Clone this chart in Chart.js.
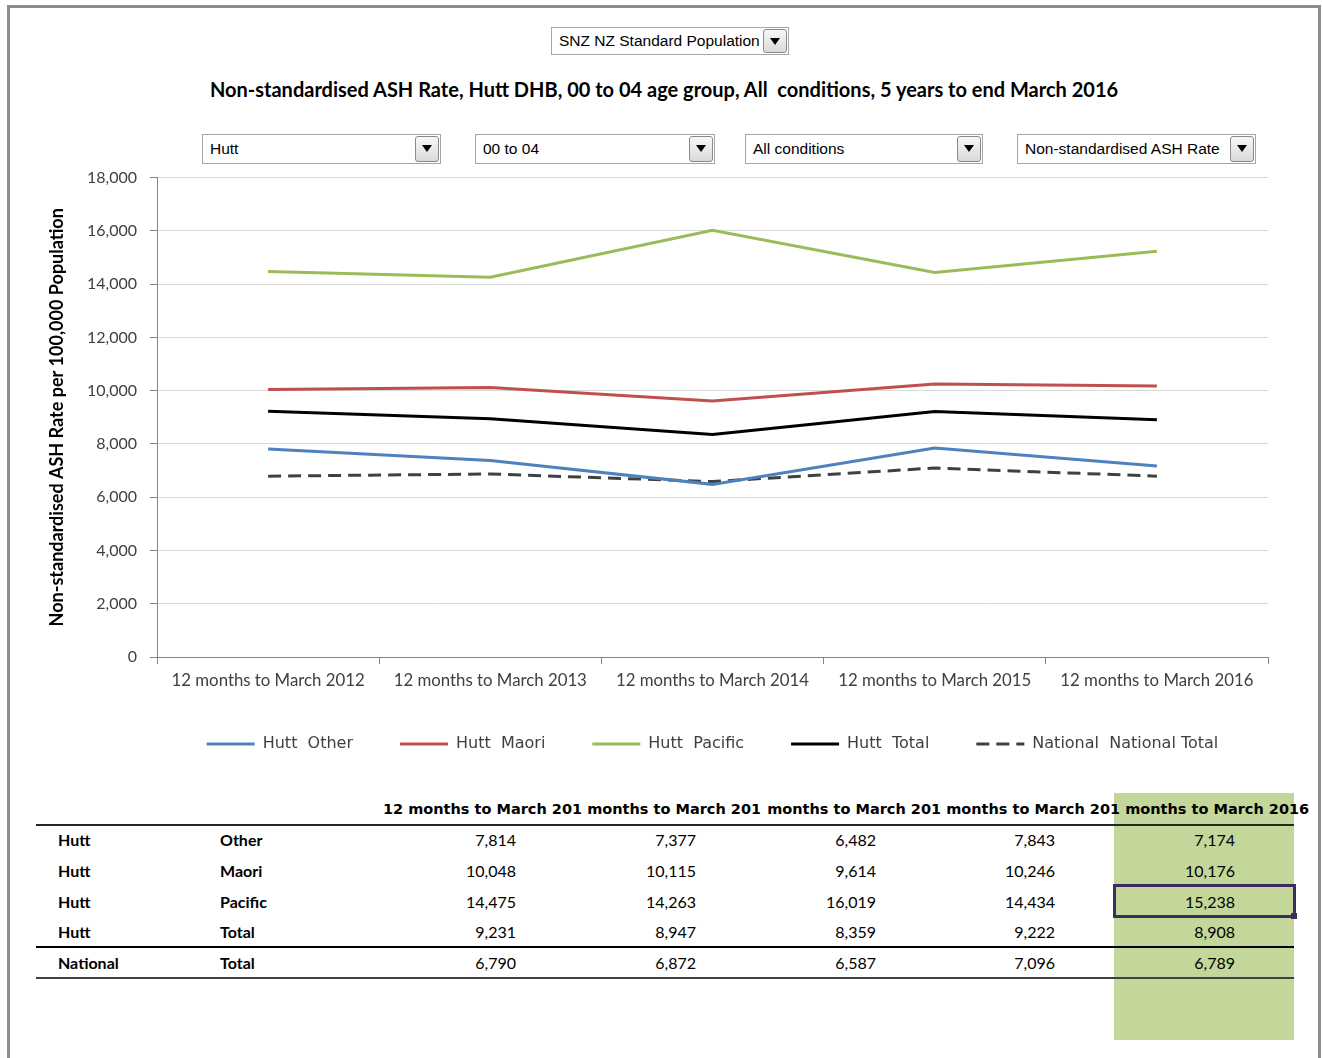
<!DOCTYPE html>
<html>
<head>
<meta charset="utf-8">
<script src="https://cdn.jsdelivr.net/npm/chart.js@4.4.1/dist/chart.umd.min.js"></script>
<style>
  body { margin: 0; background: #fff; font-family: Lato, "Liberation Sans", sans-serif; }
  #page { position: relative; width: 1323px; height: 1058px; overflow: hidden; }
  #frame { position: absolute; left: 7px; top: 5px; width: 1308px; height: 1100px; border: 3px solid #8c8c8c; }
  .dd { position: absolute; height: 28px; border: 1px solid #a6a6a6; background: #fff; box-sizing: border-box;
        font-family: "Liberation Sans", sans-serif; font-size: 15.5px; line-height: 26px;
        padding-left: 7px; color: #000; white-space: nowrap; overflow: hidden; }
  .btn { position: absolute; right: 1px; top: 1px; width: 24px; height: 24px; box-sizing: border-box;
         border: 1px solid #8a8a8a; border-radius: 3px; background: linear-gradient(#f7f7f7, #dadada); }
  .btn::after { content: ""; position: absolute; left: 6px; top: 8px; border-left: 5px solid transparent;
         border-right: 5px solid transparent; border-top: 7px solid #000; }
  #title { position: absolute; left: 10px; width: 1308px; top: 77px; text-align: center; font-weight: bold;
           font-size: 20px; color: #000; }
  #chartBox { position: absolute; left: 40px; top: 155px; width: 1250px; height: 608px; }
  .cell { position: absolute; font-size: 16px; line-height: 20px; white-space: nowrap; color: #000; }
  .hdr { position: absolute; height: 22px; overflow: hidden; }
  .hdr span { position: absolute; top: 0; white-space: nowrap;
              font-family: "DejaVu Sans", sans-serif; font-weight: bold; font-size: 14.5px; line-height: 22px; }
  .rule { position: absolute; left: 36px; width: 1258px; background: #262626; }
</style>
</head>
<body>
<div id="page">
  <div id="frame"></div>
  <div class="dd" style="left:551px;top:27px;width:238px;">SNZ NZ Standard Population<div class="btn"></div></div>
  <div id="title">Non-standardised ASH Rate, Hutt DHB, 00 to 04 age group, All&nbsp; conditions, 5 years to end March 2016</div>
  <div class="dd" style="left:202px;top:134px;width:239px;height:30px;line-height:28px;">Hutt<div class="btn" style="height:26px;"></div></div>
  <div class="dd" style="left:475px;top:134px;width:240px;height:30px;line-height:28px;">00 to 04<div class="btn" style="height:26px;"></div></div>
  <div class="dd" style="left:745px;top:134px;width:238px;height:30px;line-height:28px;">All conditions<div class="btn" style="height:26px;"></div></div>
  <div class="dd" style="left:1017px;top:134px;width:239px;height:30px;line-height:28px;">Non-standardised ASH Rate<div class="btn" style="height:26px;"></div></div>
  <div id="chartBox"><canvas id="ashChart"></canvas></div>
  <div id="table"></div>
</div>
<script>
const categories = [
  "12 months to March 2012",
  "12 months to March 2013",
  "12 months to March 2014",
  "12 months to March 2015",
  "12 months to March 2016",
];
const huttOther = [7814, 7377, 6482, 7843, 7174];
const huttMaori = [10048, 10115, 9614, 10246, 10176];
const huttPacific = [14475, 14263, 16019, 14434, 15238];
const huttTotal = [9231, 8947, 8359, 9222, 8908];
const nationalTotal = [6790, 6872, 6587, 7096, 6789];
const rowGroups = ["Hutt", "Hutt", "Hutt", "Hutt", "National"];
const rowTypes = ["Other", "Maori", "Pacific", "Total", "Total"];
const yTicks = [0, 2000, 4000, 6000, 8000, 10000, 12000, 14000, 16000, 18000];

const fmt = (v) => v.toLocaleString("en-US");

// ---- chart ----
const lineSeries = [
  { label: "Hutt  Other", data: huttOther, color: "#4f81bd", dash: [] },
  { label: "Hutt  Maori", data: huttMaori, color: "#c0504d", dash: [] },
  { label: "Hutt  Pacific", data: huttPacific, color: "#9bbb59", dash: [] },
  { label: "Hutt  Total", data: huttTotal, color: "#000000", dash: [] },
  { label: "National  National Total", data: nationalTotal, color: "#404040", dash: [13, 7] },
];

const chartData = {
  labels: categories,
  datasets: lineSeries.map((s) => ({
    label: s.label,
    data: s.data,
    borderColor: s.color,
    backgroundColor: s.color,
    borderWidth: 3,
    borderDash: s.dash,
    pointRadius: 0,
    tension: 0,
    fill: false,
  })),
};

const chartOptions = {
  responsive: true,
  maintainAspectRatio: false,
  animation: false,
  layout: { padding: { top: 12, left: 0, right: 22, bottom: 1 } },
  scales: {
    x: {
      offset: true,
      grid: { offset: true, drawOnChartArea: false, drawTicks: true, tickLength: 7, tickColor: "#868686" },
      border: { color: "#868686" },
      ticks: {
        color: "#404040",
        padding: 7,
        maxRotation: 0,
        autoSkip: false,
        font: { family: "Lato", size: 16.8 },
      },
      afterFit: (scale) => { scale.height = 32; },
    },
    y: {
      min: 0,
      max: 18000,
      afterBuildTicks: (scale) => { scale.ticks = yTicks.map((v) => ({ value: v })); },
      grid: { color: "#d9d9d9", tickColor: "#868686", tickLength: 7 },
      border: { color: "#868686" },
      ticks: {
        color: "#404040",
        padding: 13,
        font: { family: "Lato", size: 16 },
        callback: (v) => fmt(v),
      },
      title: {
        display: true,
        text: "Non-standardised ASH Rate per 100,000 Population",
        color: "#000",
        font: { family: "Lato", size: 18, weight: "bold" },
        padding: { top: 6, bottom: 0 },
      },
      afterFit: (scale) => { scale.width = 117; },
    },
  },
  plugins: {
    legend: {
      display: true,
      position: "bottom",
      fullSize: false,
      labels: {
        usePointStyle: true,
        pointStyle: "line",
        pointStyleWidth: 48,
        padding: 47,
        color: "#404040",
        font: { family: "DejaVu Sans", size: 16 },
        generateLabels: (chart) =>
          Chart.defaults.plugins.legend.labels.generateLabels(chart).map((item) => {
            const ds = chart.data.datasets[item.datasetIndex];
            item.lineDash = ds.borderDash;
            item.lineWidth = 3;
            item.strokeStyle = ds.borderColor;
            return item;
          }),
      },
    },
    tooltip: { enabled: false },
  },
};

new Chart(document.getElementById("ashChart"), {
  type: "line",
  data: chartData,
  options: chartOptions,
});

// ---- table under the chart ----
const table = document.getElementById("table");
const add = (html) => table.insertAdjacentHTML("beforeend", html);

add('<div style="position:absolute;left:1114px;top:793px;width:180px;height:247px;background:#c4d79b;"></div>');

// header cells clip their text like the spreadsheet does
const hdrLefts = [402, 581, 761, 940, 1119];
hdrLefts.forEach((l, i) => {
  let left = l, width = 179;
  if (i === 0) { left = l - 40; width = 219; }
  if (i === hdrLefts.length - 1) { width = 200; }
  const textX = l - 19 - left;
  add(`<div class="hdr" style="left:${left}px;top:798px;width:${width}px;"><span style="left:${textX}px;">${categories[i]}</span></div>`);
});

add('<div class="rule" style="top:824px;height:2px;"></div>');
add('<div class="rule" style="top:946px;height:1.5px;background:#000;"></div>');
add('<div class="rule" style="top:977px;height:2px;background:#404040;"></div>');

const tableRows = [huttOther, huttMaori, huttPacific, huttTotal, nationalTotal];
const rowCenters = [840, 871, 902, 932, 963];
const colRights = [516, 696, 876, 1055, 1235];
tableRows.forEach((vals, r) => {
  const top = rowCenters[r] - 10;
  add(`<div class="cell" style="left:58px;top:${top}px;font-weight:bold;">${rowGroups[r]}</div>`);
  add(`<div class="cell" style="left:220px;top:${top}px;font-weight:bold;">${rowTypes[r]}</div>`);
  vals.forEach((v, c) => {
    add(`<div class="cell" style="left:${colRights[c] - 100}px;width:100px;text-align:right;top:${top}px;">${fmt(v)}</div>`);
  });
});

add('<div style="position:absolute;left:1113px;top:884px;width:183px;height:34px;box-sizing:border-box;border:3px solid #3b2d5e;"></div>');
add('<div style="position:absolute;left:1291px;top:913px;width:6px;height:6px;background:#3b2d5e;"></div>');
</script>
</body>
</html>
